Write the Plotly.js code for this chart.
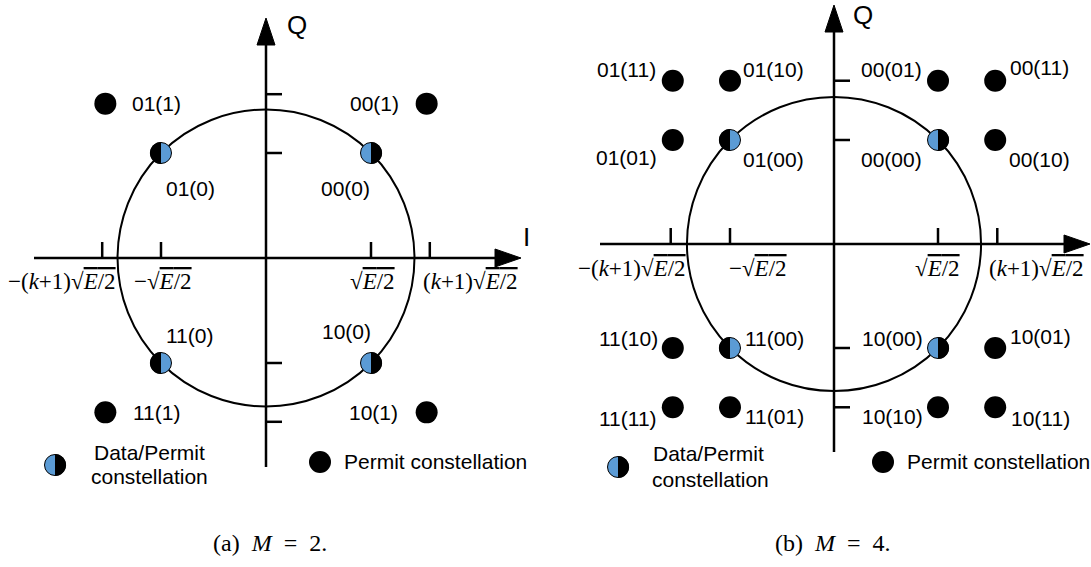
<!DOCTYPE html>
<html><head><meta charset="utf-8">
<script src="https://cdn.plot.ly/plotly-3.0.1.min.js"></script>
<style>html,body{margin:0;padding:0;background:#fff}</style>
</head><body><div id="chart" style="width:1091px;height:567px"></div>
<script>
// ---------- DATA ----------
// Panel (a) M = 2
const aDataI = [-1, 1, -1, 1];
const aDataQ = [1, 1, -1, -1];
const aDataLabels = ['01(0)', '00(0)', '11(0)', '10(0)'];
const aPermI = [-1.53, 1.53, -1.53, 1.53];
const aPermQ = [1.47, 1.47, -1.47, -1.47];
const aPermLabels = ['01(1)', '00(1)', '11(1)', '10(1)'];
const aTicks = [-1.56, -1, 1, 1.56];
const aRadius = 1.414;
// Panel (b) M = 4
const bDataI = [-1, 1, -1, 1];
const bDataQ = [1, 1, -1, -1];
const bDataLabels = ['01(00)', '00(00)', '11(00)', '10(00)'];
const bPermI = [-1.55, -1, 1, 1.55, -1.55, 1.55, -1.55, 1.55, -1.55, -1, 1, 1.55];
const bPermQ = [1.57, 1.57, 1.57, 1.57, 1, 1, -1, -1, -1.57, -1.57, -1.57, -1.57];
const bPermLabels = ['01(11)', '01(10)', '00(01)', '00(11)', '01(01)', '00(10)', '11(10)', '10(01)', '11(11)', '11(01)', '10(10)', '10(11)'];
const bTicks = [-1.57, -1, 1, 1.57];
const bRadius = 1.414;
// tick labels (shared)
const tickLabels = [
  '\u2212(<i>k</i>+1)\u221A<span style="text-decoration:overline"><i>E</i>/2</span>',
  '\u2212\u221A<span style="text-decoration:overline"><i>E</i>/2</span>',
  '\u221A<span style="text-decoration:overline"><i>E</i>/2</span>',
  '(<i>k</i>+1)\u221A<span style="text-decoration:overline"><i>E</i>/2</span>'
];
const legendTexts = ['Data/Permit', 'constellation', 'Permit constellation'];
const captions = ['(a)\u00A0\u00A0<i>M</i>\u00A0\u00A0=\u00A0\u00A02.', '(b)\u00A0\u00A0<i>M</i>\u00A0\u00A0=\u00A0\u00A04.'];

// ---------- LAYOUT / STYLE ----------
const W = 1091, H = 567;
const BLUE = '#5b9bd5';
const SANS = 'Liberation Sans, Arial, sans-serif';
const SERIF = 'Liberation Serif, Times New Roman, serif';
const panels = [
  {ox: 266, oy: 258, s: 105, xd: [0, 545], xa: 'x', ya: 'y',
   hAxis: [34, 497], vAxis: [40, 467], hTip: 521, vTip: 18,
   tickLabelPos: [62, 163, 372, 470], tickLabelY: 281,
   qPos: [297, 25], iPos: [526, 237],
   dataOff: [[29, -35], [-26, -35], [28, 28], [-25, 32]],
   permOff: [[51, 0], [-52, 0], [51, 0], [-53, 0]],
   legHalf: [55, 465], legText: [149, 452, 149, 476], legDot: [320, 462], legDotText: [342, 461],
   caption: [270, 543]},
  {ox: 834, oy: 244, s: 104, xd: [545, 1091], xa: 'x2', ya: 'y2',
   hAxis: [600, 1066], vAxis: [28, 452], hTip: 1090, vTip: 5,
   tickLabelPos: [632, 758, 937, 1036], tickLabelY: 268,
   qPos: [863, 15], iPos: [1092, 228],
   dataOff: [[43, -19], [-47, -19], [44, 10], [-46, 10]],
   permOff: [[-46, 11], [43, 11], [-47, 11], [44, 13], [-46, -17], [44, -19],
             [-44, 10], [45, 12], [-45, -11], [44, -9], [-46, -9], [45, -11]],
   legHalf: [618, 467], legText: [708, 453, 710, 479], legDot: [883, 462], legDotText: [905, 461],
   caption: [833, 543]}
];
const panelData = [
  {dI: aDataI, dQ: aDataQ, dL: aDataLabels, pI: aPermI, pQ: aPermQ, pL: aPermLabels, ticks: aTicks, r: aRadius},
  {dI: bDataI, dQ: bDataQ, dL: bDataLabels, pI: bPermI, pQ: bPermQ, pL: bPermLabels, ticks: bTicks, r: bRadius}
];

function halfPath(side, r) {
  const k = 0.5523 * r, sx = side;
  return `M0,${-r} C${sx*k},${-r} ${sx*r},${-k} ${sx*r},0 C${sx*r},${k} ${sx*k},${r} 0,${r} Z`;
}

const traces = [], shapes = [], annotations = [];
const layout = {
  width: W, height: H, margin: {l: 0, r: 0, t: 0, b: 0},
  paper_bgcolor: '#fff', plot_bgcolor: 'rgba(0,0,0,0)', showlegend: false,
  xaxis3: {domain: [0, 1], range: [0, W], visible: false, anchor: 'y3', fixedrange: true},
  yaxis3: {domain: [0, 1], range: [H, 0], visible: false, anchor: 'x3', fixedrange: true}
};
const pxLine = (x0, y0, x1, y1, w) => ({type: 'line', xref: 'x3', yref: 'y3', x0, y0, x1, y1, line: {color: '#000', width: w}});
const pxTri = (pts) => ({type: 'path', xref: 'x3', yref: 'y3', path: 'M' + pts.map(p => p.join(',')).join(' L') + ' Z', fillcolor: '#000', line: {color: '#000', width: 1}});
const text = (x, y, t, font, size, extra) => Object.assign({xref: 'x3', yref: 'y3', x, y, text: t, showarrow: false, font: {family: font, size, color: '#000'}, xanchor: 'center', yanchor: 'middle'}, extra || {});

const DOT = 22, HALF = 21;
panels.forEach((P, i) => {
  const D = panelData[i];
  const ax = i === 0 ? 'xaxis' : 'xaxis2', ay = i === 0 ? 'yaxis' : 'yaxis2';
  layout[ax] = {domain: [P.xd[0] / W, P.xd[1] / W], range: [(P.xd[0] - P.ox) / P.s, (P.xd[1] - P.ox) / P.s], visible: false, anchor: P.ya, fixedrange: true};
  layout[ay] = {domain: [0, 1], range: [(P.oy - H) / P.s, P.oy / P.s], visible: false, anchor: P.xa, fixedrange: true};

  // circle
  shapes.push({type: 'circle', xref: P.xa, yref: P.ya, x0: -D.r, x1: D.r, y0: -D.r, y1: D.r, line: {color: '#000', width: 2}, layer: 'below'});
  // axes
  shapes.push(pxLine(P.hAxis[0], P.oy, P.hAxis[1], P.oy, 2.5));
  shapes.push(pxLine(P.ox, P.vAxis[0], P.ox, P.vAxis[1], 2.5));
  shapes.push(pxTri([[P.hTip - 26, P.oy - 9], [P.hTip, P.oy], [P.hTip - 26, P.oy + 9]]));
  shapes.push(pxTri([[P.ox - 9, P.vTip + 27], [P.ox, P.vTip], [P.ox + 9, P.vTip + 27]]));
  // ticks
  D.ticks.forEach((t, j) => {
    shapes.push({type: 'line', xref: P.xa, yref: P.ya, ysizemode: 'pixel', yanchor: 0, x0: t, x1: t, y0: 0, y1: 16, line: {color: '#000', width: 2.5}});
    shapes.push({type: 'line', xref: P.xa, yref: P.ya, xsizemode: 'pixel', xanchor: 0, x0: 0, x1: 16, y0: t, y1: t, line: {color: '#000', width: 2.5}});
    annotations.push(text(P.tickLabelPos[j], P.tickLabelY, tickLabels[j], SERIF, 23));
  });
  // axis names
  annotations.push(text(P.qPos[0], P.qPos[1], 'Q', SANS, 26));
  annotations.push(text(P.iPos[0], P.iPos[1], 'I', SANS, 26));

  // permit points
  traces.push({type: 'scatter', mode: 'markers', x: D.pI, y: D.pQ, xaxis: P.xa, yaxis: P.ya,
    marker: {size: DOT, color: '#000'}, hoverinfo: 'skip'});
  // data/permit points
  traces.push({type: 'scatter', mode: 'markers', x: D.dI, y: D.dQ, xaxis: P.xa, yaxis: P.ya,
    marker: {size: HALF, color: BLUE, line: {color: '#000', width: 1}}, hoverinfo: 'skip'});
  D.dI.forEach((x, j) => {
    shapes.push({type: 'path', xref: P.xa, yref: P.ya, xsizemode: 'pixel', ysizemode: 'pixel', xanchor: x, yanchor: D.dQ[j],
      path: halfPath(x < 0 ? -1 : 1, HALF / 2 + 0.6), fillcolor: '#000', line: {width: 0}});
  });
  // labels
  D.pL.forEach((l, j) => annotations.push({xref: P.xa, yref: P.ya, x: D.pI[j], y: D.pQ[j], text: l, showarrow: false,
    xshift: P.permOff[j][0], yshift: P.permOff[j][1], font: {family: SANS, size: 21, color: '#000'}}));
  D.dL.forEach((l, j) => annotations.push({xref: P.xa, yref: P.ya, x: D.dI[j], y: D.dQ[j], text: l, showarrow: false,
    xshift: P.dataOff[j][0], yshift: P.dataOff[j][1], font: {family: SANS, size: 21, color: '#000'}}));

  // legend
  traces.push({type: 'scatter', mode: 'markers', x: [P.legHalf[0]], y: [P.legHalf[1]], xaxis: 'x3', yaxis: 'y3',
    marker: {size: HALF, color: BLUE, line: {color: '#000', width: 1}}, hoverinfo: 'skip'});
  shapes.push({type: 'path', xref: 'x3', yref: 'y3', xsizemode: 'pixel', ysizemode: 'pixel', xanchor: P.legHalf[0], yanchor: P.legHalf[1],
    path: halfPath(1, HALF / 2 + 0.6), fillcolor: '#000', line: {width: 0}});
  traces.push({type: 'scatter', mode: 'markers', x: [P.legDot[0]], y: [P.legDot[1]], xaxis: 'x3', yaxis: 'y3',
    marker: {size: DOT, color: '#000'}, hoverinfo: 'skip'});
  annotations.push(text(P.legText[0], P.legText[1], legendTexts[0], SANS, 21));
  annotations.push(text(P.legText[2], P.legText[3], legendTexts[1], SANS, 21));
  annotations.push(text(P.legDotText[0], P.legDotText[1], legendTexts[2], SANS, 21, {xanchor: 'left'}));
  // caption
  annotations.push(text(P.caption[0], P.caption[1], captions[i], SERIF, 24));
});

layout.shapes = shapes;
layout.annotations = annotations;
Plotly.newPlot('chart', traces, layout, {staticPlot: true, displayModeBar: false});
</script>
</body></html>
